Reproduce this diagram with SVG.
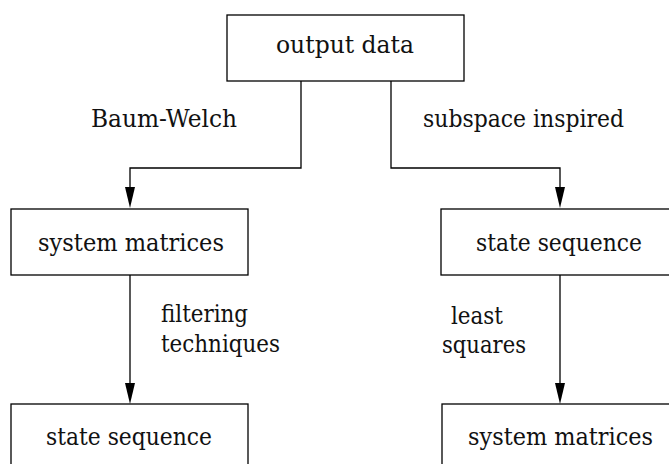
<svg xmlns="http://www.w3.org/2000/svg" width="669" height="464" viewBox="0 0 669 464">
<style>
.box{fill:#fff;stroke:#000;stroke-width:1.3}
.edge{fill:none;stroke:#000;stroke-width:1.3}
</style>
<rect width="669" height="464" fill="#fff"/>
<g id="connectors">
<path class="edge" d="M301,81 V168 H130 V200"/>
<polygon points="125,187 135,187 130,208" fill="#000"/>
<path class="edge" d="M391,81 V168 H560 V200"/>
<polygon points="555,187 565,187 560,208" fill="#000"/>
<path class="edge" d="M130,275 V396"/>
<polygon points="125,383 135,383 130,404" fill="#000"/>
<path class="edge" d="M560,275 V396"/>
<polygon points="555,383 565,383 560,404" fill="#000"/>
</g>
<g id="labels" font-family="DejaVu Serif, serif" font-size="24" fill="#111">
<text x="91" y="127" textLength="146" lengthAdjust="spacingAndGlyphs">Baum-Welch</text>
<text x="423" y="127" textLength="201" lengthAdjust="spacingAndGlyphs">subspace inspired</text>
<text x="161" y="322" textLength="87" lengthAdjust="spacingAndGlyphs">filtering</text>
<text x="161" y="352" textLength="119" lengthAdjust="spacingAndGlyphs">techniques</text>
<text x="451" y="324" textLength="52" lengthAdjust="spacingAndGlyphs">least</text>
<text x="442" y="353" textLength="84" lengthAdjust="spacingAndGlyphs">squares</text>
</g>
<g id="n-output" font-family="DejaVu Serif, serif" font-size="24" fill="#111">
<rect class="box" x="227" y="15" width="237" height="66"/>
<text x="276" y="53" textLength="138" lengthAdjust="spacingAndGlyphs">output data</text>
</g>
<g id="n-sysmat-left" font-family="DejaVu Serif, serif" font-size="24" fill="#111">
<rect class="box" x="11" y="209" width="237" height="66"/>
<text x="38" y="251" textLength="186" lengthAdjust="spacingAndGlyphs">system matrices</text>
</g>
<g id="n-stateseq-right" font-family="DejaVu Serif, serif" font-size="24" fill="#111">
<rect class="box" x="441" y="209" width="237" height="66"/>
<text x="476" y="251" textLength="166" lengthAdjust="spacingAndGlyphs">state sequence</text>
</g>
<g id="n-stateseq-left" font-family="DejaVu Serif, serif" font-size="24" fill="#111">
<rect class="box" x="11" y="404" width="237" height="66"/>
<text x="46" y="445" textLength="166" lengthAdjust="spacingAndGlyphs">state sequence</text>
</g>
<g id="n-sysmat-right" font-family="DejaVu Serif, serif" font-size="24" fill="#111">
<rect class="box" x="442" y="404" width="237" height="66"/>
<text x="468" y="445" textLength="185" lengthAdjust="spacingAndGlyphs">system matrices</text>
</g>
</svg>
